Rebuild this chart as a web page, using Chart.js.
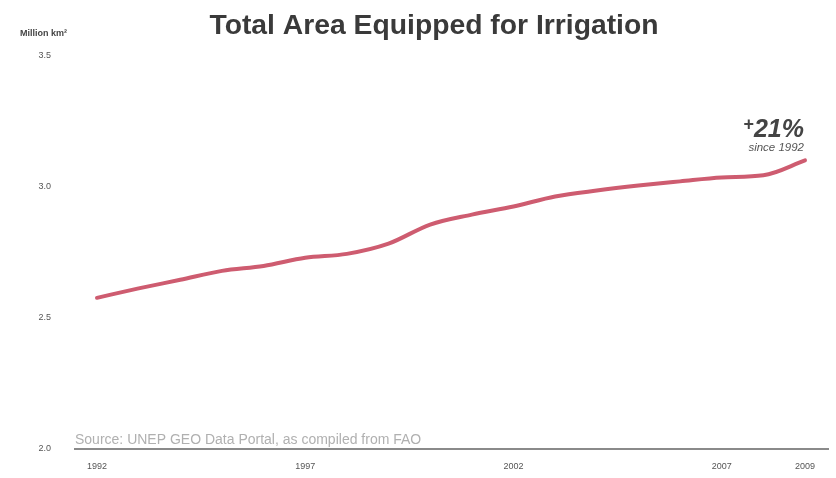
<!DOCTYPE html>
<html><head><meta charset="utf-8">
<script src="https://cdn.jsdelivr.net/npm/chart.js@4/dist/chart.umd.min.js"></script>
<style>html,body{margin:0;padding:0;background:#fff}#wrap{width:836px;height:478px;position:relative}</style>
</head><body><div id="wrap"><canvas id="c" width="836" height="478"></canvas></div>
<script>
const years = [1992,1993,1994,1995,1996,1997,1998,1999,2000,2001,2002,2003,2004,2005,2006,2007,2008,2009];
const irrigatedArea = [2.576,2.612,2.645,2.679,2.698,2.729,2.744,2.783,2.856,2.894,2.925,2.963,2.986,3.005,3.021,3.036,3.044,3.101];
const xTickYears = [1992,1997,2002,2007,2009];
const yTicks = [2.0,2.5,3.0,3.5];
const titleText = "Total Area Equipped for Irrigation";
const unitText = "Million km²";
const sourceText = "Source: UNEP GEO Data Portal, as compiled from FAO";
const changeSign = "+";
const changeText = "21%";
const changeSub = "since 1992";

const textPlugin = {
  id: 'texts',
  afterDraw(chart) {
    const ctx = chart.ctx;
    ctx.save();
    ctx.textBaseline = 'alphabetic';
    ctx.fillStyle = '#3a3a3a';
    ctx.font = 'bold 28.3px "Liberation Sans", Arial, sans-serif';
    ctx.textAlign = 'center';
    ctx.fillText(titleText, 434, 34);
    ctx.font = 'bold 9px "Liberation Sans", Arial, sans-serif';
    ctx.textAlign = 'left';
    ctx.fillStyle = '#444';
    ctx.fillText(unitText, 20, 36);
    ctx.fillStyle = '#b0b0b0';
    ctx.font = '14px "Liberation Sans", Arial, sans-serif';
    ctx.fillText(sourceText, 75, 444);
    ctx.textAlign = 'right';
    ctx.fillStyle = '#444';
    ctx.font = 'italic bold 25px "Liberation Sans", Arial, sans-serif';
    ctx.fillText(changeText, 804, 137);
    const w = ctx.measureText(changeText).width;
    ctx.font = 'bold 18px "Liberation Sans", Arial, sans-serif';
    ctx.fillText(changeSign, 804 - w, 130);
    ctx.font = 'italic 11.5px "Liberation Sans", Arial, sans-serif';
    ctx.fillStyle = '#555';
    ctx.fillText(changeSub, 804, 151);
    ctx.restore();
  }
};

new Chart(document.getElementById('c'), {
  type: 'line',
  data: {
    datasets: [{
      data: years.map((y,i)=>({x:y, y:irrigatedArea[i]})),
      borderColor: 'rgb(206,92,112)',
      borderWidth: 4,
      pointRadius: 0,
      tension: 0.4,
      cubicInterpolationMode: 'monotone',
      borderCapStyle: 'round',
      fill: false
    }]
  },
  options: {
    responsive: false,
    animation: false,
    layout: { padding: { top: 56, right: 8, left: 0, bottom: 0 } },
    plugins: { legend: {display:false}, title:{display:false}, tooltip:{enabled:false} },
    scales: {
      x: {
        type: 'linear',
        min: 1991.472, max: 2009.552,
        afterBuildTicks(scale){ scale.ticks = xTickYears.map(v=>({value:v})); },
        afterFit(scale){ scale.height = 29; },
        grid: { display:false, drawTicks:false },
        border: { display:true, color:'#8a8a8a', width:2 },
        ticks: { padding: 13, color:'#555', font:{ size:9, family:'"Liberation Sans", Arial, sans-serif' }, callback:(v)=>String(v), maxRotation:0, autoSkip:false }
      },
      y: {
        min: 2.0, max: 3.5,
        afterBuildTicks(scale){ scale.ticks = yTicks.map(v=>({value:v})); },
        afterFit(scale){ scale.width = 75; },
        grid: { display:false, drawTicks:false },
        border: { display:false },
        ticks: { padding: 24, color:'#555', font:{ size:9, family:'"Liberation Sans", Arial, sans-serif' }, callback:(v)=>Number(v).toFixed(1) }
      }
    }
  },
  plugins: [textPlugin]
});
</script></body></html>
